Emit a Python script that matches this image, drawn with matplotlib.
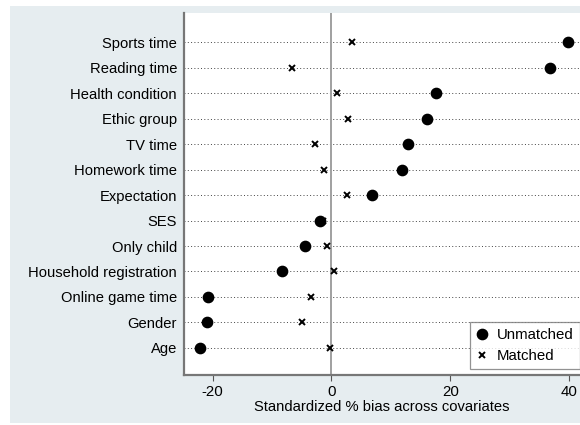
import matplotlib.pyplot as plt
from matplotlib.patches import Rectangle

covariates = ['Sports time', 'Reading time', 'Health condition', 'Ethic group',
              'TV time', 'Homework time', 'Expectation', 'SES', 'Only child',
              'Household registration', 'Online game time', 'Gender', 'Age']
unmatched = [39.7, 36.7, 17.6, 16.0, 12.8, 11.8, 6.85, -1.9, -4.5, -8.3,
             -20.8, -20.9, -22.1]
matched = [3.4, -6.6, 0.9, 2.7, -2.8, -1.25, 2.6, -1.5, -0.75, 0.4,
           -3.5, -4.9, -0.2]
xticks = [-20, 0, 20, 40]

plt.rcParams['font.family'] = ['Liberation Sans', 'DejaVu Sans']
plt.rcParams['axes.unicode_minus'] = False

fig = plt.figure(figsize=(5.8, 4.25), dpi=100, facecolor='white')
# graph region background
fig.patches.append(Rectangle((10 / 580, 2 / 425), 1, (417 / 425), transform=fig.transFigure,
                             facecolor='#e6edf0', edgecolor='none', zorder=-1))
ax = fig.add_axes([184 / 580, 50 / 425, 396 / 580, 362 / 425])
ax.set_facecolor('white')

n = len(covariates)
ypos = list(range(n, 0, -1))

for y in ypos:
    ax.axhline(y, color='#444444', lw=0.7, ls=(0, (1, 2.4)), zorder=1)
ax.axvline(0, color='#a0a0a0', lw=1.4, zorder=1)

ax.plot(unmatched, ypos, 'o', color='black', ms=7.4, ls='none', label='Unmatched', zorder=3)
ax.plot(matched, ypos, 'x', color='black', ms=3.8, mew=1.4, ls='none', label='Matched', zorder=3)

ax.set_xlim(-24.8, 41.8)
ax.set_ylim(-0.06, n + 1.14)
ax.set_yticks(ypos)
ax.set_yticklabels(covariates, fontsize=10.6)
ax.set_xticks(xticks)
ax.tick_params(axis='y', length=0, pad=5)
ax.tick_params(axis='x', length=4, width=0.8, color='#555555', labelsize=10.8, pad=3)
ax.set_xlabel('Standardized % bias across covariates', fontsize=10.6, labelpad=1)

for side in ['top', 'right']:
    ax.spines[side].set_visible(False)
for side in ['left', 'bottom']:
    ax.spines[side].set_color('#777777')
    ax.spines[side].set_linewidth(1.6)

leg = ax.legend(loc='lower left', bbox_to_anchor=(0.722, 0.016), fontsize=10.8,
                frameon=True, fancybox=False, handlelength=0.8, handletextpad=0.6,
                borderpad=0.4, labelspacing=0.45, borderaxespad=0)
leg.get_frame().set_edgecolor('#777777')
leg.get_frame().set_linewidth(0.9)

fig.savefig('out.png', dpi=100, facecolor='white')
